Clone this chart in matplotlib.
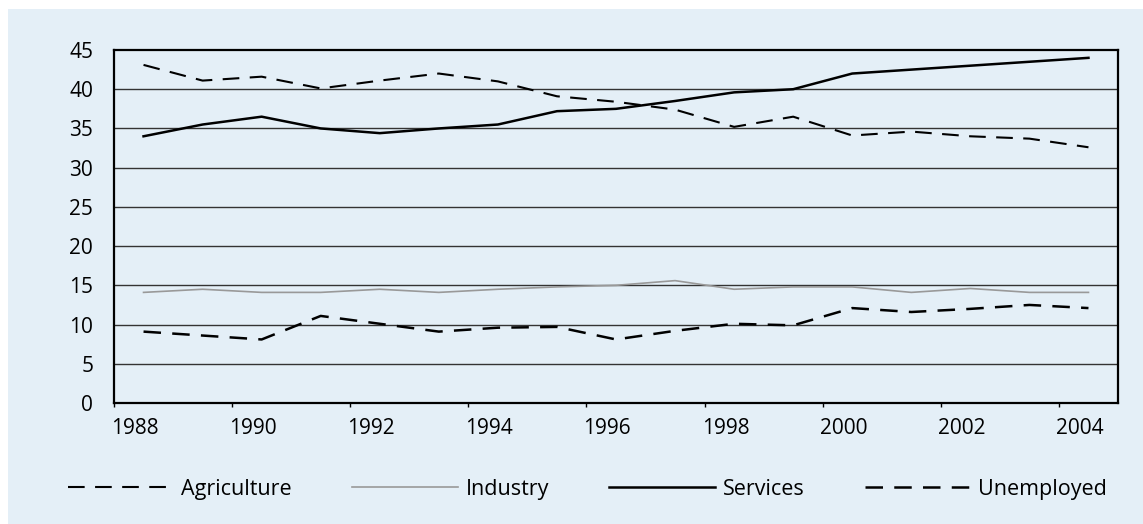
import numpy as np
import matplotlib
matplotlib.use('Agg')
from matplotlib import pyplot as plt
from matplotlib.patches import Rectangle
from matplotlib.transforms import ScaledTranslation

plt.rcParams['font.family'] = ['Open Sans', 'DejaVu Sans']

years = np.arange(1988, 2005)
agriculture = [43.1, 41.1, 41.6, 40.1, 41.1, 42.0, 41.0, 39.1, 38.4, 37.4, 35.2, 36.5,
               34.1, 34.6, 34.0, 33.7, 32.6]
industry = [14.1, 14.5, 14.1, 14.1, 14.5, 14.1, 14.5, 14.8, 15.0, 15.6, 14.5, 14.8,
            14.8, 14.1, 14.6, 14.1, 14.1]
services = [34.0, 35.5, 36.5, 35.0, 34.4, 35.0, 35.5, 37.2, 37.5, 38.5, 39.6, 40.0,
            42.0, 42.5, 43.0, 43.5, 44.0]
unemployed = [9.1, 8.6, 8.1, 11.1, 10.1, 9.1, 9.6, 9.7, 8.1, 9.2, 10.1, 9.9,
              12.1, 11.6, 12.0, 12.5, 12.1]

bg = '#E4EFF7'

fig = plt.figure(figsize=(11.43, 5.24), dpi=100)
fig.patches.append(Rectangle((8 / 1143, 0), 1 - 8 / 1143, 1 - 9 / 524,
                             transform=fig.transFigure, facecolor=bg,
                             edgecolor='none', zorder=-10))
ax = fig.add_axes([114 / 1143, 121 / 524, 1004 / 1143, 353 / 524])
ax.set_facecolor('none')
ax.set_zorder(5)

x = years + 0.5
ax.plot(x, agriculture, color='black', lw=1.5, ls=(0, (8, 5)), label='Agriculture', zorder=3)
ax.plot(x, industry, color='#999999', lw=1.2, label='Industry', zorder=3)
ax.plot(x, services, color='black', lw=1.8, label='Services', zorder=3)
ax.plot(x, unemployed, color='black', lw=1.8, ls=(0, (7, 4.5)), label='Unemployed', zorder=3)

ax.set_xlim(1988, 2005)
ax.set_ylim(0, 45)
ax.set_yticks(np.arange(0, 50, 5))
ax.set_xticks(np.arange(1988, 2005, 2))
for y in range(5, 45, 5):
    ax.axhline(y, color='#333333', lw=1.0, zorder=1)

for s in ax.spines.values():
    s.set_linewidth(1.6)
    s.set_color('black')

ax.tick_params(axis='y', length=0, pad=15, labelsize=15)
ax.tick_params(axis='x', length=3, width=1, pad=8, labelsize=15)
shift = ScaledTranslation(-3 / 100, 0, fig.dpi_scale_trans)
for lab in ax.get_xticklabels():
    lab.set_horizontalalignment('left')
    lab.set_transform(lab.get_transform() + shift)

fig.legend(loc='center', bbox_to_anchor=(0.514, 0.066), ncol=4, frameon=False,
           fontsize=15.5, handlelength=4.9, handletextpad=0.37, columnspacing=2.8)

plt.savefig('out.png', dpi=100)
